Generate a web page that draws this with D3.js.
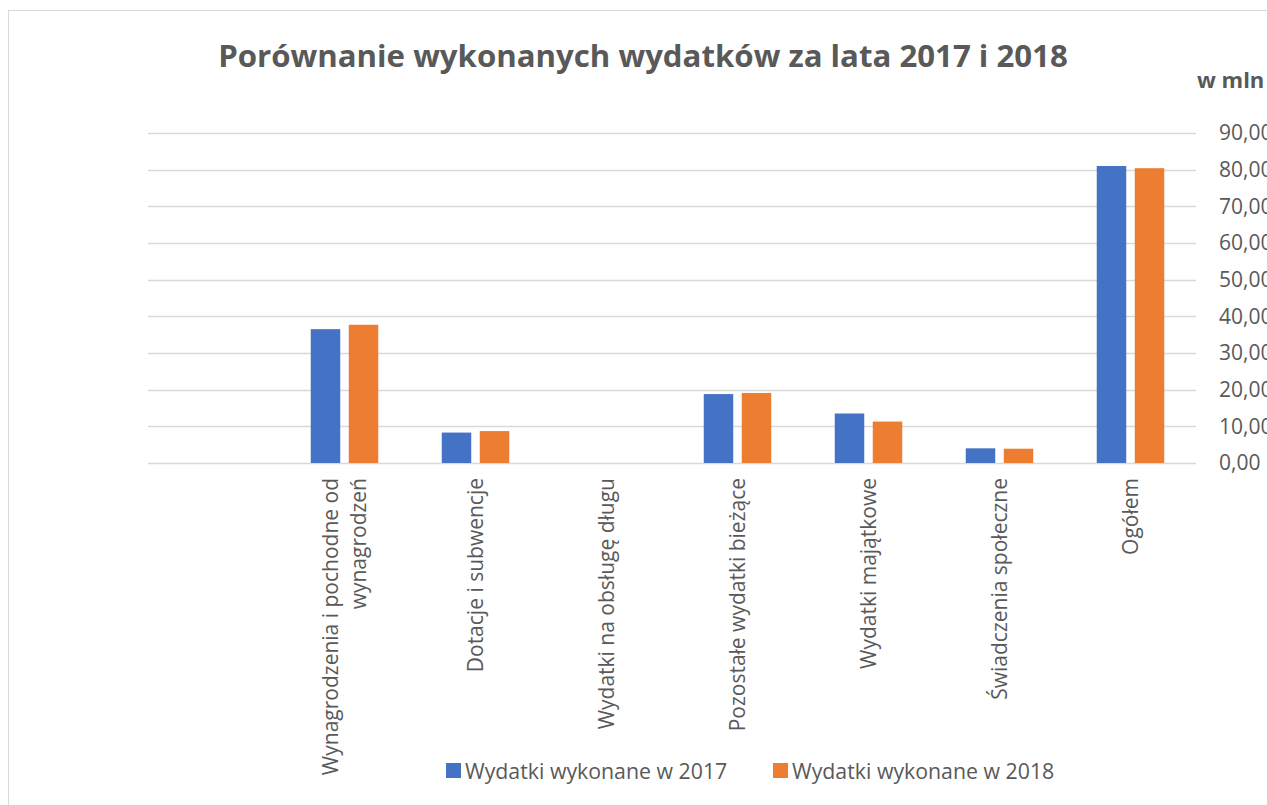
<!DOCTYPE html>
<html>
<head>
<meta charset="utf-8">
<script src="https://cdn.jsdelivr.net/npm/d3@7"></script>
<style>
  html, body { margin: 0; padding: 0; background: #fff; }
  svg { display: block; }
  text { font-family: "Open Sans", sans-serif; fill: #595959; }
</style>
</head>
<body>
<svg id="chart" width="1267" height="805"></svg>
<script>
const categories = [
  "",
  "Wynagrodzenia i pochodne od|wynagrodzeń",
  "Dotacje i subwencje",
  "Wydatki na obsługę długu",
  "Pozostałe wydatki bieżące",
  "Wydatki majątkowe",
  "Świadczenia społeczne",
  "Ogółem"
];
const seriesNames = ["Wydatki wykonane w 2017", "Wydatki wykonane w 2018"];
const values2017 = [null, 36.5, 8.3, 0, 18.8, 13.5, 4.0, 81.0];
const values2018 = [null, 37.7, 8.7, 0, 19.1, 11.3, 3.9, 80.4];
const yTicks = [0, 10, 20, 30, 40, 50, 60, 70, 80, 90];
const colors = ["#4472C4", "#ED7D31"];
const title = "Porównanie wykonanych wydatków za lata 2017 i 2018";
const unitLabel = "w mln";

const svg = d3.select("#chart");

// outer chart border
svg.append("rect")
  .attr("x", 8.5).attr("y", 10.5)
  .attr("width", 1300).attr("height", 820)
  .attr("fill", "none").attr("stroke", "#D9D9D9").attr("stroke-width", 1);

const plot = { left: 148, right: 1196, top: 133, bottom: 463 };

const x0 = d3.scaleBand().domain(d3.range(categories.length))
  .range([plot.left, plot.right]).paddingInner(0).paddingOuter(0);
const groupW = 67.5;
const x1 = d3.scaleBand().domain([0, 1]).range([0, groupW]).paddingInner(0.224).paddingOuter(0);
const y = d3.scaleLinear().domain([0, 90]).range([plot.bottom, plot.top]);

const fmt = v => d3.format(".2f")(v).replace(".", ",");

// gridlines
svg.append("g").selectAll("line").data(yTicks).join("line")
  .attr("x1", plot.left).attr("x2", plot.right)
  .attr("y1", d => Math.round(y(d)) + 0.5).attr("y2", d => Math.round(y(d)) + 0.5)
  .attr("stroke", "#D9D9D9").attr("stroke-width", 1.5);

// right axis labels
const yAxis = d3.axisRight(y).tickValues(yTicks).tickFormat(fmt).tickSize(0).tickPadding(0);
const gy = svg.append("g").attr("transform", `translate(1219,0)`).call(yAxis);
gy.select(".domain").remove();
gy.selectAll("text").attr("font-size", 21).attr("fill", "#595959")
  .style("font-family", '"Open Sans", sans-serif');

// unit label
svg.append("text").attr("x", 1197).attr("y", 88)
  .attr("font-size", 22).attr("font-weight", "bold").text(unitLabel);

// title
svg.append("text").attr("x", 643).attr("y", 67).attr("text-anchor", "middle")
  .attr("font-size", 31.2).attr("font-weight", "bold").text(title);

// bars
const seriesData = [values2017, values2018];
seriesData.forEach((vals, si) => {
  svg.append("g").selectAll("rect")
    .data(vals.map((v, i) => ({ v, i })).filter(d => d.v != null && d.v > 0))
    .join("rect")
    .attr("x", d => x0(d.i) + x0.bandwidth() / 2 - groupW / 2 + x1(si))
    .attr("width", x1.bandwidth())
    .attr("y", d => y(d.v))
    .attr("height", d => y(0) - y(d.v))
    .attr("fill", colors[si]);
});

// category labels (rotated)
const lineH = 28;
const catG = svg.append("g");
categories.forEach((c, i) => {
  if (!c) return;
  const lines = c.split("|");
  const cx = x0(i) + x0.bandwidth() / 2;
  const t = catG.append("text")
    .attr("transform", `translate(${cx},478) rotate(-90)`)
    .attr("text-anchor", "end").attr("font-size", 21);
  lines.forEach((ln, k) => {
    t.append("tspan").attr("x", 0)
      .attr("y", (k - (lines.length - 1) / 2) * lineH)
      .attr("dy", "0.35em").text(ln);
  });
});

// legend
const legendX = [446, 773];
seriesNames.forEach((name, si) => {
  const g = svg.append("g").attr("transform", `translate(${legendX[si]},0)`);
  g.append("rect").attr("x", 0).attr("y", 763).attr("width", 15).attr("height", 15).attr("fill", colors[si]);
  g.append("text").attr("x", 19).attr("y", 779).attr("font-size", 21.3).text(name);
});
</script>
</body>
</html>
